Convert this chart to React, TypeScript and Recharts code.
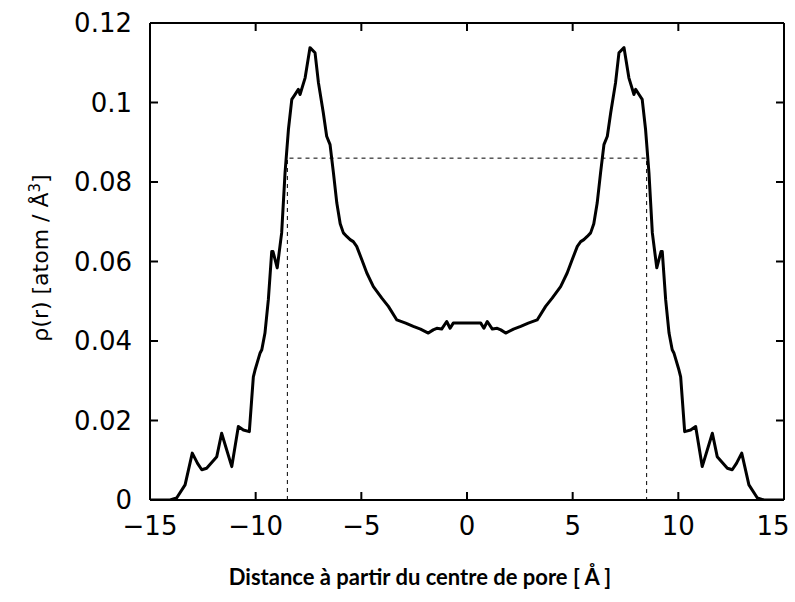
import { LineChart, Line, XAxis, YAxis } from "recharts";

// distance from pore centre (Å) and atomic density ρ(r)
const distance = [
  -15, -14.05, -13.74, -13.34, -13.0, -12.75, -12.55, -12.32, -11.84, -11.61, -11.13, -10.82,
  -10.58, -10.3, -10.19, -10.11, -10.03, -9.79, -9.71, -9.56, -9.4, -9.24, -9.18, -8.98,
  -8.77, -8.61, -8.45, -8.29, -8.14, -7.98, -7.9, -7.66, -7.43, -7.19, -7.03, -6.8,
  -6.64, -6.48, -6.32, -6.16, -6.0, -5.85, -5.69, -5.53, -5.38, -5.22, -4.98, -4.74,
  -4.43, -4.03, -3.72, -3.32, -2.9, -2.54, -2.2, -1.83, -1.6, -1.43, -1.2, -0.96,
  -0.8, -0.65,
  0.65, 0.8, 0.96, 1.2, 1.43, 1.6, 1.83, 2.2, 2.54, 2.9, 3.32, 3.72,
  4.03, 4.43, 4.74, 4.98, 5.22, 5.38, 5.53, 5.69, 5.85, 6.0, 6.16, 6.32,
  6.48, 6.64, 6.8, 7.03, 7.19, 7.43, 7.66, 7.9, 7.98, 8.14, 8.29, 8.45,
  8.61, 8.77, 8.98, 9.18, 9.24, 9.4, 9.56, 9.71, 9.79, 10.03, 10.11, 10.19,
  10.3, 10.58, 10.82, 11.13, 11.61, 11.84, 12.32, 12.55, 12.75, 13.0, 13.34, 13.74,
  14.05, 15,
];

const density = [
  0, 0, 0.0005, 0.0038, 0.0118, 0.0092, 0.0076, 0.008, 0.0109, 0.0168, 0.0084, 0.0185,
  0.0176, 0.0172, 0.0252, 0.031, 0.0327, 0.037, 0.0378, 0.042, 0.0504, 0.0625, 0.0625, 0.0584,
  0.0672, 0.0823, 0.0932, 0.1008, 0.102, 0.1033, 0.102, 0.1062, 0.1138, 0.1125, 0.105, 0.0974,
  0.0915, 0.0894, 0.0823, 0.0747, 0.0695, 0.0672, 0.0663, 0.0655, 0.065, 0.0638, 0.0605, 0.0571,
  0.0537, 0.0508, 0.0487, 0.0453, 0.0445, 0.0437, 0.043, 0.042, 0.0428, 0.0432, 0.043, 0.0449,
  0.0432, 0.0445,
  0.0445, 0.0432, 0.0449, 0.043, 0.0432, 0.0428, 0.042, 0.043, 0.0437, 0.0445, 0.0453, 0.0487,
  0.0508, 0.0537, 0.0571, 0.0605, 0.0638, 0.065, 0.0655, 0.0663, 0.0672, 0.0695, 0.0747, 0.0823,
  0.0894, 0.0915, 0.0974, 0.105, 0.1125, 0.1138, 0.1062, 0.102, 0.1033, 0.102, 0.1008, 0.0932,
  0.0823, 0.0672, 0.0584, 0.0625, 0.0625, 0.0504, 0.042, 0.0378, 0.037, 0.0327, 0.031, 0.0252,
  0.0172, 0.0176, 0.0185, 0.0084, 0.0168, 0.0109, 0.008, 0.0076, 0.0092, 0.0118, 0.0038, 0.0005,
  0, 0,
];

// dashed guide: pore radius ±8.5 Å at density 0.086
const guideX = [-8.5, -8.5, 8.5, 8.5];
const guideY = [0, 0.086, 0.086, 0];

const xTicks = [-15, -10, -5, 0, 5, 10, 15];
const yTicks = [0, 0.02, 0.04, 0.06, 0.08, 0.1, 0.12];

const profile = distance.map((x, i) => ({ x, rho: density[i] }));
const guide = guideX.map((x, i) => ({ x, rho: guideY[i] }));

const TICK = 8;
const font = { fontFamily: "DejaVu Sans", fontSize: 26, fill: "#000" };
const fmtX = (v: number) => (v < 0 ? "\u2212" + Math.abs(v) : String(v));
const fmtY = (v: number) => String(Number(v.toFixed(2)));

// gnuplot-style inward ticks, drawn at the positions recharts hands over
function BottomTick({ x, y, payload }: any) {
  const shift = payload.value === 15 ? -11 : 0;
  return (
    <g>
      <line x1={x} x2={x} y1={y} y2={y - TICK} stroke="#000" strokeWidth={2} />
      <text x={x + shift} y={y + 35} textAnchor="middle" {...font}>
        {fmtX(payload.value)}
      </text>
    </g>
  );
}

function LeftTick({ x, y, payload }: any) {
  return (
    <g>
      <line x1={x} x2={x + TICK} y1={y} y2={y} stroke="#000" strokeWidth={2} />
      <text x={x - 18} y={y} dy="0.36em" textAnchor="end" {...font}>
        {fmtY(payload.value)}
      </text>
    </g>
  );
}

function TopTick({ x, y }: any) {
  return <line x1={x} x2={x} y1={y} y2={y + TICK} stroke="#000" strokeWidth={2} />;
}

function RightTick({ x, y }: any) {
  return <line x1={x - TICK} x2={x} y1={y} y2={y} stroke="#000" strokeWidth={2} />;
}

const frame = { stroke: "#000", strokeWidth: 2 };

export default function App() {
  return (
    <div style={{ position: "absolute", left: 0, top: 0, width: 795, height: 602, background: "#fff" }}>
      <LineChart
        width={795}
        height={602}
        margin={{ top: 22, right: 10, bottom: 0, left: 0 }}
      >
        <XAxis
          xAxisId="x"
          dataKey="x"
          type="number"
          domain={[-15, 15]}
          ticks={xTicks}
          interval={0}
          allowDataOverflow
          height={102}
          tick={<BottomTick />}
          tickSize={0}
          tickMargin={0}
          axisLine={frame}
          tickLine={false}
        />
        <XAxis
          xAxisId="xt"
          orientation="top"
          dataKey="x"
          type="number"
          domain={[-15, 15]}
          ticks={xTicks}
          interval={0}
          allowDataOverflow
          height={1}
          tick={<TopTick />}
          tickSize={0}
          tickMargin={0}
          axisLine={frame}
          tickLine={false}
        />
        <YAxis
          yAxisId="y"
          type="number"
          domain={[0, 0.12]}
          ticks={yTicks}
          interval={0}
          allowDataOverflow
          width={150}
          tick={<LeftTick />}
          tickSize={0}
          tickMargin={0}
          axisLine={frame}
          tickLine={false}
        />
        <YAxis
          yAxisId="yr"
          orientation="right"
          type="number"
          domain={[0, 0.12]}
          ticks={yTicks}
          interval={0}
          allowDataOverflow
          width={1}
          tick={<RightTick />}
          tickSize={0}
          tickMargin={0}
          axisLine={frame}
          tickLine={false}
        />
        {/* guide sits on the mirrored top/right axes (same domains) so they get ticks too */}
        <Line
          xAxisId="xt"
          yAxisId="yr"
          data={guide}
          dataKey="rho"
          type="linear"
          stroke="#000"
          strokeWidth={1}
          strokeDasharray="4 4"
          dot={false}
          activeDot={false}
          isAnimationActive={false}
        />
        <Line
          xAxisId="x"
          yAxisId="y"
          data={profile}
          dataKey="rho"
          type="linear"
          stroke="#000"
          strokeWidth={3}
          strokeLinejoin="round"
          dot={false}
          activeDot={false}
          isAnimationActive={false}
        />
      </LineChart>
      <div
        style={{
          position: "absolute",
          left: -115,
          top: 243,
          width: 300,
          height: 30,
          lineHeight: "30px",
          textAlign: "center",
          transform: "rotate(-90deg)",
          fontFamily: "DejaVu Sans",
          fontSize: 22,
          color: "#000",
          whiteSpace: "nowrap",
        }}
      >
        ρ(r) [atom / Å<sup style={{ fontSize: 15 }}>3</sup>]
      </div>
      <div
        style={{
          position: "absolute",
          left: 0,
          top: 564,
          width: 840,
          lineHeight: "26px",
          textAlign: "center",
          fontFamily: "Lato",
          fontWeight: 700,
          fontSize: 22,
          color: "#000",
          whiteSpace: "nowrap",
        }}
      >
        Distance à partir du centre de pore [ Å ]
      </div>
    </div>
  );
}
